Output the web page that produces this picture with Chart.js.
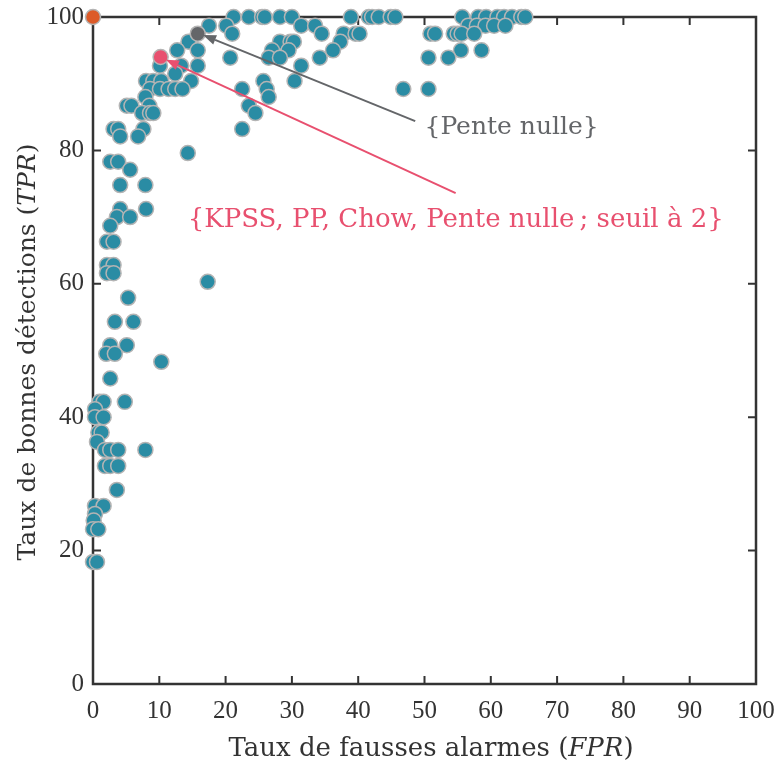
<!DOCTYPE html>
<html><head><meta charset="utf-8">
<script src="https://cdn.jsdelivr.net/npm/chart.js@4/dist/chart.umd.min.js"></script>
<style>html,body{margin:0;padding:0;background:#fff}#wrap{width:774px;height:767px}</style>
</head><body><div id="wrap"><canvas id="c" width="774" height="767"></canvas></div>
<script>
// ---- data (percent) ----
const fprDetectors = [
  21.2, 23.5, 25.5, 25.9, 28.2, 30.0, 38.9, 41.6, 42.1, 43.1, 44.9, 45.6, 55.7, 58.1, 59.3, 61.0, 62.0, 63.2, 64.6, 65.2,
  17.5, 20.1, 31.4, 33.5, 56.6, 57.9, 59.2, 60.5, 62.2,
  21.0, 34.5, 37.8, 39.6, 40.2, 50.9, 51.6, 54.4, 55.0, 55.6, 57.5,
  14.4, 28.2, 29.8, 30.3, 37.3,
  12.7, 15.8, 27.0, 29.5, 36.2, 55.5, 58.6,
  20.7, 26.5, 28.2, 34.2, 50.6, 53.6,
  10.1, 13.3, 15.8, 31.4,
  12.4,
  8.0, 9.1, 10.3, 14.8, 25.7, 30.4,
  8.6, 10.1, 11.4, 12.4, 13.5, 22.5, 26.2, 46.8, 50.6,
  7.9, 26.5,
  5.1, 5.8, 8.5, 23.5,
  7.4, 8.6, 9.1, 24.5,
  3.1, 3.8, 7.6, 22.5,
  4.1, 6.8,
  14.3,
  2.6, 3.8,
  5.6,
  4.1, 7.9,
  4.1, 8.0,
  3.6, 5.6,
  2.6,
  2.1, 3.1,
  2.1, 3.1,
  2.1, 3.1,
  17.3,
  5.3,
  3.3, 6.1,
  2.6, 5.1,
  2.0, 3.3,
  10.3,
  2.6,
  1.0, 1.6, 4.8,
  0.3,
  0.3, 1.6,
  0.8, 1.3,
  0.6,
  1.8, 2.6, 3.8, 7.9,
  1.8, 2.6, 3.8,
  3.6,
  0.3, 1.6,
  0.3,
  0.1,
  0.0, 0.8,
  0.0, 0.6
];
const tprDetectors = [
  100, 100, 100, 100, 100, 100, 100, 100, 100, 100, 100, 100, 100, 100, 100, 100, 100, 100, 100, 100,
  98.7, 98.7, 98.7, 98.7, 98.7, 98.7, 98.7, 98.7, 98.7,
  97.5, 97.5, 97.5, 97.5, 97.5, 97.5, 97.5, 97.5, 97.5, 97.5, 97.5,
  96.3, 96.3, 96.3, 96.3, 96.3,
  95.0, 95.0, 95.0, 95.0, 95.0, 95.0, 95.0,
  93.9, 93.9, 93.9, 93.9, 93.9, 93.9,
  92.7, 92.7, 92.7, 92.7,
  91.5,
  90.4, 90.4, 90.4, 90.4, 90.4, 90.4,
  89.2, 89.2, 89.2, 89.2, 89.2, 89.2, 89.2, 89.2, 89.2,
  88.0, 88.0,
  86.7, 86.7, 86.7, 86.7,
  85.6, 85.6, 85.6, 85.6,
  83.2, 83.2, 83.2, 83.2,
  82.1, 82.1,
  79.6,
  78.3, 78.3,
  77.1,
  74.8, 74.8,
  71.2, 71.2,
  70.0, 70.0,
  68.7,
  66.3, 66.3,
  62.8, 62.8,
  61.6, 61.6,
  60.3,
  57.9,
  54.3, 54.3,
  50.8, 50.8,
  49.5, 49.5,
  48.3,
  45.8,
  42.3, 42.3, 42.3,
  41.2,
  40.0, 40.0,
  37.7, 37.7,
  36.3,
  35.1, 35.1, 35.1, 35.1,
  32.7, 32.7, 32.7,
  29.1,
  26.7, 26.7,
  25.5,
  24.5,
  23.2, 23.2,
  18.3, 18.3
];
const pentePoint = [15.8, 97.5];      // {Pente nulle}
const comboPoint = [10.2, 94.0];      // {KPSS, PP, Chow, Pente nulle ; seuil à 2}
const cornerPoint = [0, 100];
const xTickValues = [0, 10, 20, 30, 40, 50, 60, 70, 80, 90, 100];
const yTickValues = [0, 20, 40, 60, 80, 100];
const penteLabel = '{Pente nulle}';
const comboLabel = '{KPSS, PP, Chow, Pente nulle\u2009; seuil à 2}';

const FONT = "'DejaVu Serif', 'Liberation Serif', serif";
const TICKFONT = "'Liberation Serif', serif";
const TEAL = '#2a8ca4', EDGE = '#b4b4b4', GRAY = '#646669', RED = '#e8506f', ORANGE = '#dc5a28', AX = '#333333';

function pts(xs, ys){ return xs.map((v,i)=>({x:v, y:ys[i]})); }

const framePlugin = {
  id: 'frame',
  beforeDatasetsDraw(chart){
    const {ctx, chartArea:a, scales:{x, y}} = chart;
    ctx.save();
    ctx.strokeStyle = AX; ctx.lineWidth = 2.5;
    ctx.strokeRect(a.left, a.top, a.right - a.left, a.bottom - a.top);
    ctx.lineWidth = 2;
    const L = 8;
    ctx.beginPath();
    xTickValues.forEach(v => { const p = x.getPixelForValue(v);
      ctx.moveTo(p, a.bottom); ctx.lineTo(p, a.bottom - L);
      ctx.moveTo(p, a.top); ctx.lineTo(p, a.top + L); });
    yTickValues.forEach(v => { const p = y.getPixelForValue(v);
      ctx.moveTo(a.left, p); ctx.lineTo(a.left + L, p);
      ctx.moveTo(a.right, p); ctx.lineTo(a.right - L, p); });
    ctx.stroke();
    ctx.restore();
  }
};

function arrow(ctx, x1, y1, x2, y2, color){
  ctx.save();
  ctx.strokeStyle = color; ctx.fillStyle = color; ctx.lineWidth = 2;
  const ang = Math.atan2(y2 - y1, x2 - x1), hl = 13, hw = 5;
  const bx = x2 - hl * Math.cos(ang), by = y2 - hl * Math.sin(ang);
  ctx.beginPath(); ctx.moveTo(x1, y1); ctx.lineTo(bx, by); ctx.stroke();
  ctx.beginPath();
  ctx.moveTo(x2, y2);
  ctx.lineTo(bx + hw * Math.sin(ang), by - hw * Math.cos(ang));
  ctx.lineTo(bx - hw * Math.sin(ang), by + hw * Math.cos(ang));
  ctx.closePath(); ctx.fill();
  ctx.restore();
}

function mixedText(ctx, parts, cx, cy, size){
  let total = 0;
  parts.forEach(p => { ctx.font = (p[1] ? 'italic ' : '') + size + 'px ' + FONT; total += ctx.measureText(p[0]).width; });
  let x = cx - total / 2;
  ctx.textAlign = 'left'; ctx.textBaseline = 'middle';
  parts.forEach(p => { ctx.font = (p[1] ? 'italic ' : '') + size + 'px ' + FONT; ctx.fillText(p[0], x, cy); x += ctx.measureText(p[0]).width; });
}

const annotPlugin = {
  id: 'annot',
  afterDatasetsDraw(chart){
    const {ctx, scales:{x, y}} = chart;
    arrow(ctx, x.getPixelForValue(48.6), y.getPixelForValue(84.4), x.getPixelForValue(16.6), y.getPixelForValue(97.3), GRAY);
    arrow(ctx, x.getPixelForValue(54.7), y.getPixelForValue(73.6), x.getPixelForValue(11.0), y.getPixelForValue(93.6), RED);
    ctx.save();
    ctx.font = '25px ' + FONT; ctx.textBaseline = 'middle'; ctx.textAlign = 'left';
    ctx.fillStyle = GRAY;
    ctx.fillText(penteLabel, x.getPixelForValue(50.0), y.getPixelForValue(83.5));
    ctx.font = '26px ' + FONT;
    ctx.fillStyle = RED;
    ctx.fillText(comboLabel, x.getPixelForValue(14.3), y.getPixelForValue(69.6));
    ctx.restore();
  },
  afterDraw(chart){
    const {ctx} = chart;
    ctx.save();
    ctx.fillStyle = AX;
    mixedText(ctx, [['Taux de fausses alarmes (', false], ['FPR', true], [')', false]], 431, 749, 26);
    ctx.translate(28, 352); ctx.rotate(-Math.PI / 2);
    mixedText(ctx, [['Taux de bonnes détections (', false], ['TPR', true], [')', false]], 0, 0, 25);
    ctx.restore();
  }
};

const ptStyle = (bg, ord) => ({ backgroundColor: bg, borderColor: EDGE, borderWidth: 1.5, pointRadius: 7.5, pointHoverRadius: 7.5, clip: false, order: ord });

new Chart(document.getElementById('c'), {
  type: 'scatter',
  data: { datasets: [
    Object.assign({ label: 'Détecteurs', data: pts(fprDetectors, tprDetectors) }, ptStyle(TEAL, 4)),
    Object.assign({ label: penteLabel, data: [{x: pentePoint[0], y: pentePoint[1]}] }, ptStyle(GRAY, 3)),
    Object.assign({ label: comboLabel, data: [{x: comboPoint[0], y: comboPoint[1]}] }, ptStyle(RED, 2)),
    Object.assign({ label: 'coin', data: [{x: cornerPoint[0], y: cornerPoint[1]}] }, ptStyle(ORANGE, 1))
  ]},
  options: {
    responsive: false, animation: false,
    layout: { padding: { top: 17, right: 18, left: 0, bottom: 0 } },
    plugins: { legend: { display: false }, tooltip: { enabled: false } },
    scales: {
      x: { type: 'linear', min: 0, max: 100,
        afterFit(s){ s.height = 83; s.paddingLeft = 0; s.paddingRight = 0; },
        grid: { display: false, drawTicks: false }, border: { display: false },
        ticks: { stepSize: 10, padding: 12, color: AX, font: { family: TICKFONT, size: 25 }, maxRotation: 0 } },
      y: { type: 'linear', min: 0, max: 100,
        afterFit(s){ s.width = 93; s.paddingTop = 0; s.paddingBottom = 0; },
        grid: { display: false, drawTicks: false }, border: { display: false },
        ticks: { stepSize: 20, padding: 9, color: AX, font: { family: TICKFONT, size: 25 } } }
    }
  },
  plugins: [framePlugin, annotPlugin]
});
</script></body></html>
